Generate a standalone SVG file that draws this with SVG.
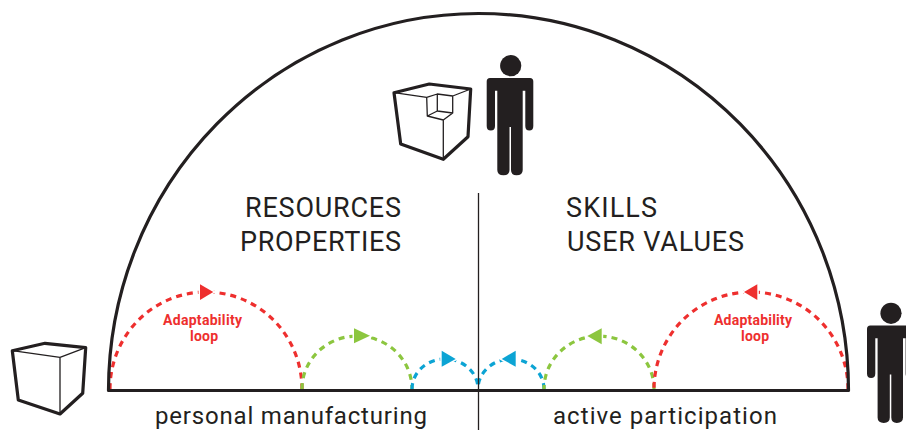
<svg xmlns="http://www.w3.org/2000/svg" xmlns:xlink="http://www.w3.org/1999/xlink" width="906" height="430" viewBox="0 0 906 430">
<style>
text{font-family:"Roboto","Liberation Sans",sans-serif}
.h{font-size:27px;font-weight:400;fill:#231f20}
.s{font-size:24px;font-weight:400;fill:#231f20}
.a{font-size:14px;font-weight:700;fill:#ee2f2e}
.o{fill:none;stroke:#231f20;stroke-linejoin:round;stroke-linecap:round}
.t{stroke-width:3.2}.n{stroke-width:1.3}
.l{fill:none;stroke-width:3.2;stroke-dasharray:6 5}
.r{stroke:#ee2f2e}.g{stroke:#8cc63f}.b{stroke:#0ca4d4}
.rf{fill:#ee2f2e}.gf{fill:#8cc63f}.bf{fill:#0ca4d4}
.w{stroke:#fff;stroke-width:3;paint-order:stroke}
</style>
<defs>
<g id="person" fill="#231f20">
<circle cx="510.7" cy="65.7" r="10.6"/>
<path d="M490 78H530Q533.3 78 533.3 81.5V126Q533.3 130.5 529.3 130.5Q525.3 130.5 525.3 126V90.7H522.7V170Q522.7 175.3 516.5 175.3Q511 175.3 511 170V127H509.5V170Q509.5 175.3 503.5 175.3Q497.3 175.3 497.3 170V90.7H495V126Q495 130.5 490.8 130.5Q486.7 130.5 486.7 126V81.5Q486.7 78 490 78Z"/>
</g>
</defs>
<rect width="906" height="430" fill="#fff"/>
<g id="connectors">
<path class="l r" d="M110 389A96 97 0 0 1 302 389"/>
<path class="l g" d="M302 389A55 53 0 0 1 412 389"/>
<path class="l b" d="M412 389A33 30 0 0 1 478 389"/>
<path class="l b" d="M544 389A33 30 0 0 0 478 389"/>
<path class="l g" d="M654 389A55 53 0 0 0 544 389"/>
<path class="l r" d="M848 389A97 97 0 0 0 654 389"/>
<polygon class="rf w" points="200,284.3 213.3,292 200,300"/>
<polygon class="gf w" points="354,328.3 370,335.8 354,343.3"/>
<polygon class="bf w" points="441.7,350.7 455.7,359 441.7,366.7"/>
<polygon class="bf w" points="515.7,350.7 501.7,359 515.7,366.7"/>
<polygon class="gf w" points="601.7,328.3 587.3,336 601.7,344.3"/>
<polygon class="rf w" points="757.3,284.3 744,292 757.3,300"/>
<path d="M478.5 193V430" fill="none" stroke="#231f20" stroke-width="1.3"/>
</g>
<g id="dome"><path class="o t" d="M108.5 390.5A370 377 0 0 1 848.5 390.5Z"/></g>
<g id="cube-plain">
<path class="o t" d="M12.3 350.7 45 343.3 85.7 347.7 82.7 393.3 60 414 18.3 400Z"/>
<path class="o n" d="M12.3 350.7 60 357.3 85.7 347.7M60 357.3V414"/>
</g>
<g id="cube-notched">
<path class="o t" d="M394 92.7 429.3 84 470.7 89 468 136.7 443.3 159.3 400.7 144Z"/>
<path class="o n" d="M394 92.7 426.7 97.3 437.3 94 452.7 96 470.7 89M426.7 97.3 427.3 116 443.3 120 452.7 113 437.3 111 427.3 116M437.3 94V111M452.7 96V113M443.3 120V159.3"/>
</g>
<g id="person-top"><use xlink:href="#person" href="#person"/></g>
<g id="person-right"><use xlink:href="#person" href="#person" transform="translate(380.3 247.6)"/></g>
<g id="labels">
<text class="h" x="245" y="216.7" textLength="156">RESOURCES</text>
<text class="h" x="240" y="251" textLength="161">PROPERTIES</text>
<text class="h" x="566" y="216.7" textLength="91">SKILLS</text>
<text class="h" x="567" y="251" textLength="177">USER VALUES</text>
<text class="s" x="155" y="423.5" textLength="272">personal manufacturing</text>
<text class="s" x="553" y="423.5" textLength="224">active participation</text>
<text class="a" x="163" y="324.5" textLength="79">Adaptability</text>
<text class="a" x="190" y="341" textLength="28">loop</text>
<text class="a" x="714" y="324.5" textLength="78">Adaptability</text>
<text class="a" x="741" y="341" textLength="28">loop</text>
</g>
</svg>
